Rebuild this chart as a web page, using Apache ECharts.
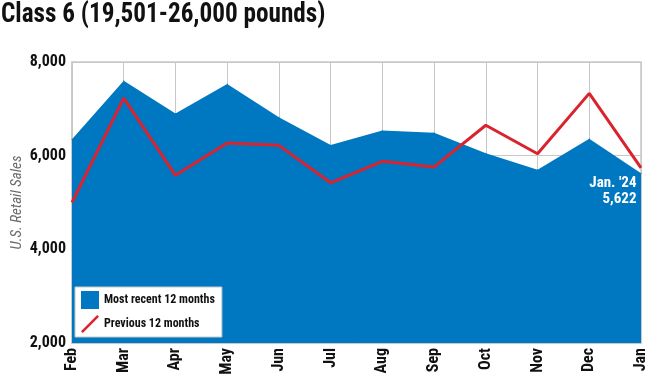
<!DOCTYPE html>
<html>
<head>
<meta charset="utf-8">
<script src="https://cdn.jsdelivr.net/npm/echarts@6/dist/echarts.min.js"></script>
<style>
html,body{margin:0;padding:0;background:#fff;}
#c{width:650px;height:380px;}
</style>
</head>
<body>
<div id="c"></div>
<script>
var months = ['Feb','Mar','Apr','May','Jun','Jul','Aug','Sep','Oct','Nov','Dec','Jan'];
var recent12 = [6350, 7600, 6900, 7530, 6820, 6230, 6540, 6490, 6050, 5700, 6360, 5622];
var previous12 = [5000, 7230, 5580, 6270, 6220, 5420, 5880, 5760, 6650, 6040, 7330, 5740];
var yTicks = [2000, 4000, 6000, 8000];
var titleText = 'Class 6 (19,501-26,000 pounds)';
var lastLabel = "Jan. '24\n5,622";

var FONT = '"Roboto Condensed", "Open Sans Condensed", sans-serif';
var BLUE = '#0078c1';
var RED = '#d9232e';

var areaData = recent12.map(function (v, i) {
  if (i === recent12.length - 1) {
    return {
      value: v,
      label: {
        show: true,
        formatter: lastLabel,
        position: [-4, 2],
        align: 'right',
        verticalAlign: 'top',
        color: '#fff',
        fontFamily: FONT,
        fontWeight: 'bold',
        fontSize: 15,
        lineHeight: 16
      }
    };
  }
  return v;
});

var chart = echarts.init(document.getElementById('c'));
chart.setOption({
  animation: false,
  backgroundColor: '#fff',
  graphic: [{
    type: 'text',
    x: 1,
    y: 1,
    scaleX: 0.9,
    scaleY: 1,
    originX: 0,
    originY: 0,
    style: {
      text: titleText,
      fontFamily: FONT,
      fontWeight: 'bold',
      fontSize: 28,
      fill: '#111',
      verticalAlign: 'top',
      textVerticalAlign: 'top'
    }
  }],
  grid: { left: 72, right: 9, top: 62, bottom: 37, outerBoundsMode: 'none', containLabel: false, show: true, borderColor: '#c8c8c8', borderWidth: 1.5, backgroundColor: 'transparent' },
  legend: {
    orient: 'vertical',
    left: 75,
    top: 287,
    backgroundColor: '#fff',
    borderColor: '#c8c8c8',
    borderWidth: 1,
    padding: [4, 7, 4, 6],
    itemWidth: 18,
    itemHeight: 18,
    itemGap: 6,
    textStyle: { fontFamily: FONT, fontSize: 12, color: '#111', fontWeight: 'bold' },
    data: [
      { name: 'Most recent 12 months', icon: 'rect' },
      { name: 'Previous 12 months', icon: 'path://M0,18 L2,20 L20,2 L18,0 Z' }
    ]
  },
  xAxis: {
    type: 'category',
    data: months,
    boundaryGap: false,
    axisLine: { show: true, lineStyle: { color: '#c8c8c8', width: 1.5 } },
    axisTick: { show: false },
    splitLine: { show: true, lineStyle: { color: '#c8c8c8', width: 1 } },
    axisLabel: {
      rotate: 90,
      interval: 0,
      margin: 5,
      fontFamily: FONT,
      fontWeight: 'bold',
      fontSize: 16,
      color: '#111'
    }
  },
  yAxis: {
    type: 'value',
    min: yTicks[0],
    max: yTicks[yTicks.length - 1],
    interval: 2000,
    name: 'U.S. Retail Sales',
    nameLocation: 'middle',
    nameGap: 47,
    nameMoveOverlap: false,
    nameTextStyle: { fontFamily: FONT, fontStyle: 'italic', fontSize: 15, color: '#6b6b6b' },
    axisLine: { show: true, lineStyle: { color: '#c8c8c8', width: 1.5 } },
    axisTick: { show: false },
    splitLine: { show: true, lineStyle: { color: '#c8c8c8', width: 1 } },
    axisLabel: {
      margin: 6,
      fontFamily: FONT,
      fontWeight: 'bold',
      fontSize: 16,
      color: '#111',
      formatter: function (v) { return v.toLocaleString('en-US'); }
    }
  },
  series: [
    {
      name: 'Most recent 12 months',
      type: 'line',
      data: areaData,
      symbol: 'circle',
      symbolSize: 1,
      showSymbol: true,
      lineStyle: { width: 0, color: BLUE },
      itemStyle: { color: BLUE },
      areaStyle: { color: BLUE, opacity: 1 },
      labelLayout: { hideOverlap: false },
      z: 2
    },
    {
      name: 'Previous 12 months',
      type: 'line',
      data: previous12,
      symbol: 'none',
      lineStyle: { width: 3, color: RED },
      itemStyle: { color: RED },
      z: 3
    }
  ]
});
</script>
</body>
</html>
